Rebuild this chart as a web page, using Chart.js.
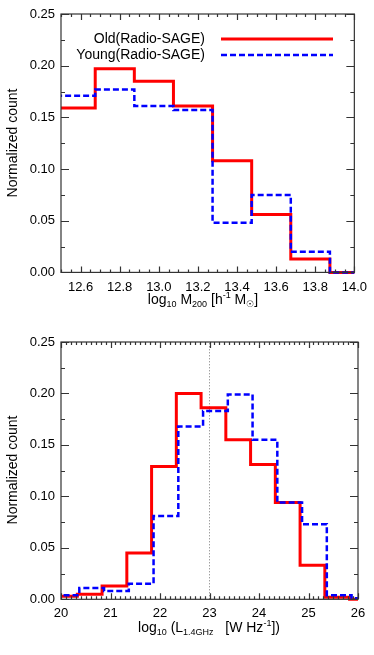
<!DOCTYPE html>
<html>
<head>
<meta charset="utf-8">
<script src="https://cdn.jsdelivr.net/npm/chart.js@4.4.0/dist/chart.umd.min.js"></script>
<style>
body { margin:0; background:#fff; width:374px; height:655px; position:relative; overflow:hidden; font-family:"Liberation Sans", Arial, sans-serif; color:#000; }
canvas { position:absolute; left:0; }
#c1 { top:0; }
#c2 { top:320px; }
.title { position:absolute; font-size:14px; line-height:14px; white-space:nowrap; }
.title sub, .title sup { font-size:9px; line-height:0; position:relative; vertical-align:baseline; }
.title sub { top:3px; }
.title sup { top:-6px; }
.xt { transform:translateX(-50%); }
.yt { width:200px; text-align:center; transform:rotate(-90deg); }
</style>
</head>
<body>
<canvas id="c1" width="374" height="320"></canvas>
<canvas id="c2" width="374" height="335"></canvas>
<div class="title xt" style="left:203px;top:292px">log<sub>10</sub> M<sub>200</sub> [h<sup>-1</sup> M<sub>☉</sub>]</div>
<div class="title xt" style="left:209px;top:620px">log<sub>10</sub> (L<sub>1.4GHz</sub>&nbsp;&nbsp; [W Hz<sup>-1</sup>])</div>
<div class="title yt" style="left:-88px;top:136px">Normalized count</div>
<div class="title yt" style="left:-88px;top:463px">Normalized count</div>
<script>
// top panel: halo mass histogram
const massEdges = [12.475, 12.675, 12.875, 13.075, 13.275, 13.475, 13.675, 13.875, 14.075];
const massOld = [0.159, 0.197, 0.185, 0.161, 0.108, 0.056, 0.013, 0.0];
const massYoung = [0.171, 0.177, 0.161, 0.157, 0.048, 0.075, 0.020, 0.0];
const massTicks = [12.6, 12.8, 13.0, 13.2, 13.4, 13.6, 13.8, 14.0];

// bottom panel: 1.4GHz luminosity histogram
const lumEdgesOld = [19.83, 20.33, 20.83, 21.33, 21.83, 22.33, 22.83, 23.33, 23.83, 24.33, 24.83, 25.33, 25.83, 26.33];
const lumOld = [0.003, 0.005, 0.013, 0.045, 0.129, 0.200, 0.186, 0.155, 0.131, 0.094, 0.033, 0.002, 0.0];
const lumEdgesYoung = [19.87, 20.37, 20.87, 21.37, 21.87, 22.37, 22.87, 23.37, 23.87, 24.37, 24.87, 25.37, 25.87, 26.37];
const lumYoung = [0.004, 0.011, 0.008, 0.015, 0.081, 0.168, 0.183, 0.199, 0.155, 0.094, 0.073, 0.004, 0.001];
const lumTicks = [20, 21, 22, 23, 24, 25, 26];
const lumCut = 23;

const countTicks = [0, 0.05, 0.10, 0.15, 0.20, 0.25];
const seriesNames = ['Old(Radio-SAGE)', 'Young(Radio-SAGE)'];

Chart.defaults.font.family = '"Liberation Sans", Arial, sans-serif';
Chart.defaults.color = '#000';

function stepPoints(edges, vals)
{
	const pts = vals.map((v, i) => ({ x: edges[i], y: v }));
	pts.push({ x: edges[vals.length], y: vals[vals.length - 1] });
	return pts;
}

// 'before' = horizontal first, then vertical at the next edge
function oldSet(edges, vals)
{
	return { label: seriesNames[0], data: stepPoints(edges, vals), stepped: 'before', borderColor: '#ff0000', borderWidth: 3,
		pointRadius: 0, order: 1, clip: { left: 0, right: 0, top: 0, bottom: 3 } };
}

function youngSet(edges, vals)
{
	return { label: seriesNames[1], data: stepPoints(edges, vals), stepped: 'before', borderColor: '#0000ff', borderWidth: 2.5,
		borderDash: [6, 3], pointRadius: 0, order: 0, clip: { left: 0, right: 0, top: 0, bottom: 3 } };
}

// ticks pointing inward on all four sides, plus the box
const frameTicks = {
	id: 'frameTicks',
	afterDatasetsDraw(chart, args, opts) {
		const ctx = chart.ctx, a = chart.chartArea;
		const xs = chart.scales.x, ys = chart.scales.y;
		ctx.save();
		ctx.strokeStyle = '#333';
		ctx.lineWidth = 1.2;
		ctx.beginPath();
		const xt = (v, len) => {
			const p = Math.round(xs.getPixelForValue(v)) + 0.5;
			ctx.moveTo(p, a.bottom); ctx.lineTo(p, a.bottom - len);
			ctx.moveTo(p, a.top); ctx.lineTo(p, a.top + len);
		};
		const yt = (v, len) => {
			const p = Math.round(ys.getPixelForValue(v)) + 0.5;
			ctx.moveTo(a.left, p); ctx.lineTo(a.left + len, p);
			ctx.moveTo(a.right, p); ctx.lineTo(a.right - len, p);
		};
		const minors = (min, max, step, major, fn, len) => {
			for (let k = Math.ceil(min / step - 1e-9); k * step <= max + 1e-9; k++) {
				const v = k * step, r = v / major;
				if (Math.abs(r - Math.round(r)) > 1e-6) fn(v, len);
			}
		};
		xs.ticks.forEach(t => xt(t.value, 6));
		ys.ticks.forEach(t => yt(t.value, 8));
		minors(xs.min, xs.max, opts.xMinor, opts.xMajor, xt, 3);
		minors(ys.min, ys.max, 0.025, 0.05, yt, 4);
		ctx.stroke();
		ctx.strokeRect(a.left, a.top, a.right - a.left, a.bottom - a.top);
		ctx.restore();
	}
};

// legend: text right aligned, line sample to the right
const stepLegend = {
	id: 'stepLegend',
	afterDraw(chart, args, opts) {
		if (!opts.show) return;
		const ctx = chart.ctx;
		ctx.save();
		ctx.font = '14px "Liberation Sans", Arial, sans-serif';
		ctx.fillStyle = '#000';
		ctx.textAlign = 'right';
		ctx.textBaseline = 'middle';
		chart.data.datasets.filter(d => seriesNames.includes(d.label)).forEach(d => {
			const i = seriesNames.indexOf(d.label);
			const y = opts.y[i];
			ctx.fillText(d.label, opts.textRight, y);
			ctx.beginPath();
			ctx.strokeStyle = d.borderColor;
			ctx.lineWidth = d.borderWidth;
			ctx.setLineDash(d.borderDash || []);
			ctx.moveTo(opts.x0, y);
			ctx.lineTo(opts.x1, y);
			ctx.stroke();
		});
		ctx.restore();
	}
};

function makeChart(id, datasets, x, geo)
{
	return new Chart(document.getElementById(id).getContext('2d'), {
		type: 'line',
		data: { datasets: datasets },
		plugins: [frameTicks, stepLegend],
		options: {
			responsive: false,
			animation: false,
			devicePixelRatio: 1,
			layout: { padding: { top: geo.top, right: 16, left: 0, bottom: 0 } },
			plugins: {
				legend: { display: false },
				tooltip: { enabled: false },
				frameTicks: { xMinor: x.minor, xMajor: x.major },
				stepLegend: { show: geo.legend, textRight: 205, x0: 221, x1: 333, y: [39, 55] }
			},
			scales: {
				x: {
					type: 'linear', min: x.min, max: x.max,
					grid: { display: false, drawTicks: false }, border: { display: false },
					afterBuildTicks: s => { s.ticks = x.ticks.map(v => ({ value: v })); },
					afterFit: s => { s.height = geo.xHeight; },
					ticks: { font: { size: 13 }, padding: geo.xPad, maxRotation: 0, autoSkip: false, callback: x.fmt }
				},
				y: {
					min: 0, max: 0.25,
					grid: { display: false, drawTicks: false }, border: { display: false },
					afterBuildTicks: s => { s.ticks = countTicks.map(v => ({ value: v })); },
					afterFit: s => { s.width = 61; },
					ticks: { font: { size: 13 }, padding: 6, callback: v => v.toFixed(2) }
				}
			}
		}
	});
}

makeChart('c1',
	[oldSet(massEdges, massOld), youngSet(massEdges, massYoung)],
	{ min: 12.5, max: 14.0, ticks: massTicks, minor: 0.05, major: 0.2, fmt: v => v.toFixed(1) },
	{ top: 14, xHeight: 47.6, xPad: 7, legend: true });

makeChart('c2',
	[oldSet(lumEdgesOld, lumOld), youngSet(lumEdgesYoung, lumYoung),
	 { label: 'cut', data: [{ x: lumCut, y: 0 }, { x: lumCut, y: 0.25 }], borderColor: '#777', borderWidth: 1,
	   borderDash: [1, 2], pointRadius: 0, order: 2 }],
	{ min: 20, max: 26, ticks: lumTicks, minor: 0.1, major: 1, fmt: v => String(v) },
	{ top: 22, xHeight: 55.7, xPad: 6, legend: false });
</script>
</body>
</html>
